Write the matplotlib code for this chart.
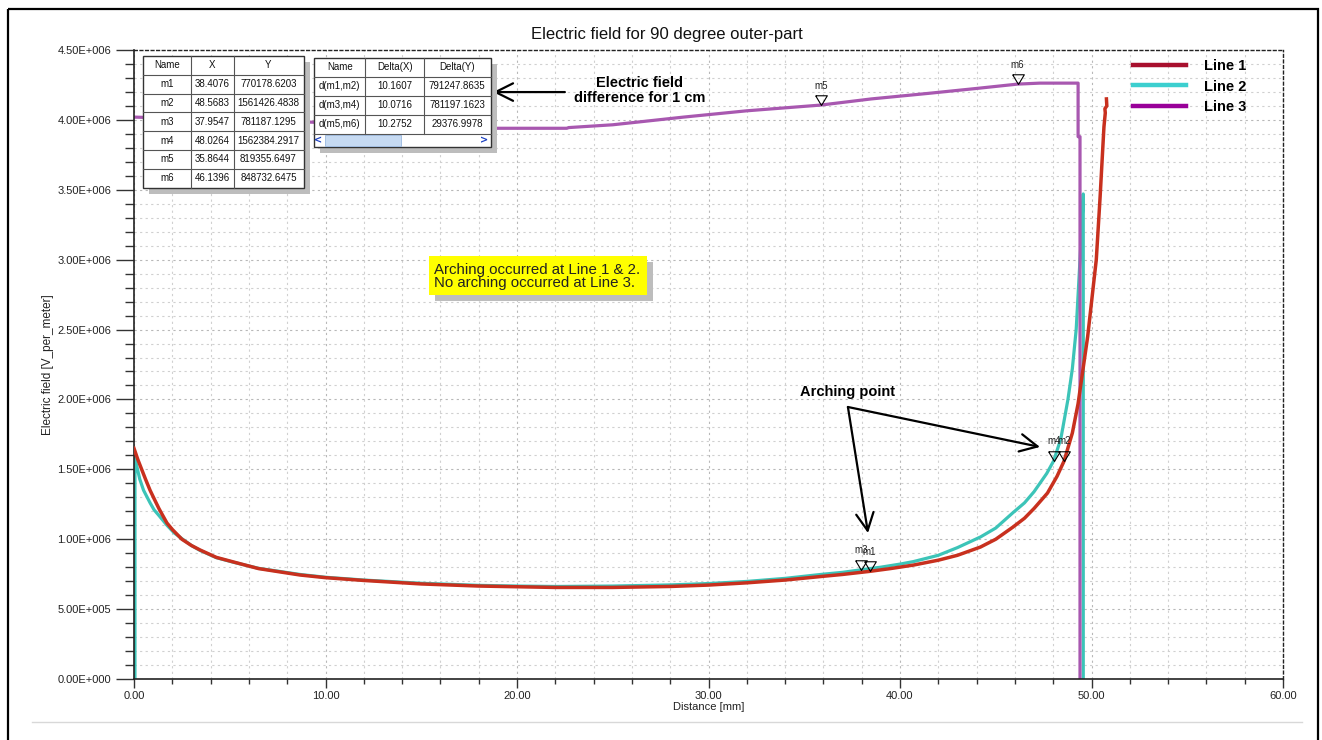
import numpy as np
import matplotlib
matplotlib.use("Agg")
import matplotlib.pyplot as plt
from matplotlib.patches import Rectangle
from matplotlib.lines import Line2D
from matplotlib.ticker import MultipleLocator, FuncFormatter

plt.rcParams['font.family'] = ['Liberation Sans', 'DejaVu Sans']

# --- data (distance in mm, field in 1e6 V/m) ---
dist_1 = [0.0, 0.2, 0.4, 0.6, 0.84, 1.05, 1.3, 1.5, 1.72, 2.0, 2.5, 3.0, 3.45, 4.3, 5.2,
          6.5, 8.67, 10, 12, 15, 18, 20, 22, 25, 28, 30, 32, 34, 36, 37, 38.41, 39.5,
          40.7, 42, 43, 44.2, 45, 45.9, 46.5, 47, 47.7, 48.2, 48.57, 49.0, 49.3, 49.8,
          50.25, 50.45, 50.65, 50.72, 50.7, 50.8, 50.78]
field_1 = [1.65, 1.57, 1.50, 1.43, 1.35, 1.29, 1.22, 1.17, 1.116, 1.07, 1.0, 0.955,
           0.923, 0.87, 0.837, 0.79, 0.744, 0.725, 0.705, 0.68, 0.665, 0.66, 0.655,
           0.655, 0.662, 0.672, 0.688, 0.708, 0.735, 0.748, 0.770, 0.79, 0.815, 0.85,
           0.885, 0.944, 1.0, 1.087, 1.15, 1.22, 1.33, 1.45, 1.56, 1.76, 1.97, 2.45,
           3.0, 3.45, 3.95, 4.05, 4.08, 4.10, 4.15]

dist_2 = [0.05, 0.05, 0.15, 0.3, 0.5, 0.84, 1.05, 1.3, 1.72, 2.1, 2.6, 3.0, 3.45, 4.3,
          5.2, 6.5, 8.67, 10, 12, 15, 18, 20, 22, 25, 28, 30, 32, 34, 36, 37, 37.95, 39,
          40, 40.7, 42, 43, 44.2, 45, 45.9, 46.5, 47.0, 47.66, 48.03, 48.4, 48.77, 49.0,
          49.2, 49.4, 49.5, 49.57, 49.57]
field_2 = [0.0, 1.58, 1.52, 1.43, 1.35, 1.26, 1.21, 1.17, 1.10, 1.045, 0.994, 0.955,
           0.92, 0.868, 0.835, 0.792, 0.748, 0.728, 0.708, 0.685, 0.67, 0.665, 0.662,
           0.665, 0.673, 0.683, 0.698, 0.72, 0.75, 0.763, 0.781, 0.80, 0.822, 0.84,
           0.885, 0.94, 1.016, 1.08, 1.19, 1.26, 1.34, 1.47, 1.562, 1.72, 2.0, 2.22,
           2.5, 3.0, 3.25, 3.47, 0.0]

dist_3 = [0, 5, 9, 14, 18, 22.6, 22.7, 25, 28.7, 32, 35.86, 38.5, 41.5, 44, 46.14, 47.3,
          49.3, 49.3, 49.4, 49.4]
field_3 = [4.02, 4.0, 3.985, 3.96, 3.94, 3.94, 3.945, 3.965, 4.02, 4.065, 4.106, 4.15,
           4.19, 4.225, 4.256, 4.263, 4.263, 3.88, 3.88, 0.0]

marker_names = ['m1', 'm2', 'm3', 'm4', 'm5', 'm6']
marker_x = [38.4076, 48.5683, 37.9547, 48.0264, 35.8644, 46.1396]
marker_y = [0.770, 1.561, 0.781, 1.562, 4.106, 4.256]

table1 = [['Name', 'X', 'Y'],
          ['m1', '38.4076', '770178.6203'],
          ['m2', '48.5683', '1561426.4838'],
          ['m3', '37.9547', '781187.1295'],
          ['m4', '48.0264', '1562384.2917'],
          ['m5', '35.8644', '819355.6497'],
          ['m6', '46.1396', '848732.6475']]
table2 = [['Name', 'Delta(X)', 'Delta(Y)'],
          ['d(m1,m2)', '10.1607', '791247.8635'],
          ['d(m3,m4)', '10.0716', '781197.1623'],
          ['d(m5,m6)', '10.2752', '29376.9978']]

series_labels = ['Line 1', 'Line 2', 'Line 3']
line_colors = ['#c8301e', '#3cc4b8', '#a858b0']
legend_colors = ['#a8102e', '#3ccfcf', '#990099']

W, H = 1322, 740
fig = plt.figure(figsize=(W / 100, H / 100), dpi=100)
ax = fig.add_axes([134 / W, 1 - 679 / H, (1283 - 134) / W, (679 - 50) / H])

scale = 1e6
ax.plot(dist_2, np.array(field_2) * scale, color=line_colors[1], lw=2.3, zorder=2)
ax.plot(dist_3, np.array(field_3) * scale, color=line_colors[2], lw=2.3, zorder=2.5)
ax.plot(dist_1, np.array(field_1) * scale, color=line_colors[0], lw=2.5, zorder=3)

# markers: open triangles with tip on the curve
tri = [(-0.6, 1.0), (0.6, 1.0), (0.0, 0.0), (-0.6, 1.0)]
ax.plot(marker_x, np.array(marker_y) * scale, linestyle='none', marker=tri,
        markersize=14, markerfacecolor='none', markeredgecolor='black',
        markeredgewidth=0.8, zorder=4)
for name, mx, my in zip(marker_names, marker_x, marker_y):
    ax.annotate(name, (mx, my * scale), xytext=(0, 14), textcoords='offset points',
                ha='center', va='center', fontsize=7, color='#222222', zorder=4)

ax.set_xlim(0, 60)
ax.set_ylim(0, 4.5e6)
ax.xaxis.set_major_locator(MultipleLocator(10))
ax.xaxis.set_minor_locator(MultipleLocator(2))
ax.yaxis.set_major_locator(MultipleLocator(0.5e6))
ax.yaxis.set_minor_locator(MultipleLocator(1e5))
ax.xaxis.set_major_formatter(FuncFormatter(lambda v, p: f'{v:.2f}'))


def sci(v, p):
    if v == 0:
        return '0.00E+000'
    e = int(np.floor(np.log10(abs(v))))
    return f'{v / 10**e:.2f}E+{e:03d}'


ax.yaxis.set_major_formatter(FuncFormatter(sci))
ax.tick_params(axis='x', which='major', length=6.5, width=1, colors='#333333',
               labelsize=8, pad=2, labelcolor='#222222')
ax.tick_params(axis='x', which='minor', length=3.6, width=1, colors='#333333')
ax.tick_params(axis='y', which='major', length=13, width=1, colors='#333333',
               labelsize=8, pad=3.5, labelcolor='#222222')
ax.tick_params(axis='y', which='minor', length=6.5, width=1, colors='#333333')

ax.grid(True, which='minor', color='#d0d0d0', lw=0.8, linestyle=(0, (2, 3)))
ax.grid(True, which='major', color='#b8b8b8', lw=0.8, linestyle=(0, (2, 3)))
ax.set_axisbelow(True)
for s in ['left', 'bottom']:
    ax.spines[s].set_color('#222222')
    ax.spines[s].set_linewidth(1.2)
for s in ['top', 'right']:
    ax.spines[s].set_color('#222222')
    ax.spines[s].set_linewidth(1.0)
    ax.spines[s].set_linestyle((0, (2, 2)))

ax.set_xlabel('Distance [mm]', fontsize=8, labelpad=1, color='#222222')
ax.set_ylabel('Electric field [V_per_meter]', fontsize=8.5, labelpad=2, color='#222222')

# annotations
arrow_style = dict(arrowstyle='->,head_length=0.7,head_width=0.35', lw=1.6,
                   color='black', mutation_scale=18, shrinkA=0, shrinkB=0)
ax.annotate('', xy=(38.33, 1.044e6), xytext=(37.28, 1.946e6), arrowprops=arrow_style)
ax.annotate('', xy=(47.31, 1.66e6), xytext=(37.28, 1.946e6), arrowprops=arrow_style)
ax.text(37.28, 2.05e6, 'Arching point', ha='center', va='center', fontsize=10.5,
        fontweight='bold')
ax.annotate('', xy=(18.75, 4.199e6), xytext=(22.5, 4.199e6), arrowprops=arrow_style)
ax.text(26.4, 4.21e6, 'Electric field\ndifference for 1 cm', ha='center', va='center',
        fontsize=10.5, fontweight='bold', linespacing=1.15)

handles = [Line2D([0], [0], color=c, lw=3.2) for c in legend_colors]
ax.legend(handles, series_labels, loc='upper left', bbox_to_anchor=(1133 / W, 1 - 59 / H),
          bbox_transform=fig.transFigure, frameon=False, borderpad=0, borderaxespad=0,
          handlelength=3.6, handletextpad=1.25, labelspacing=0.45,
          prop={'weight': 'bold', 'size': 10.5})

fig.text(667 / W, 1 - 35 / H, 'Electric field for 90 degree outer-part', ha='center',
         va='center', fontsize=12, color='#111111')

# --- overlay in pixel coordinates: frame, tables, note box ---
ov = fig.add_axes([0, 0, 1, 1], zorder=5)
ov.set_xlim(0, W)
ov.set_ylim(H, 0)
ov.axis('off')

ov.add_patch(Rectangle((8, 9), 1310, 740, fill=False, ec='black', lw=1.6))
ov.plot([32, 1302], [722, 722], color='#d8d8d8', lw=1)


def draw_table(left, top, col_w, row_h, rows, extra_h=0):
    width = sum(col_w)
    height = row_h * len(rows) + extra_h
    ov.add_patch(Rectangle((left + 6, top + 6), width, height, color='#bdbdbd', lw=0))
    ov.add_patch(Rectangle((left, top), width, height, fc='white', ec='#333333', lw=1))
    for i, row in enumerate(rows):
        y = top + row_h * i
        if i > 0:
            ov.plot([left, left + width], [y, y], color='#555555', lw=0.8)
        x = left
        for j, cell in enumerate(row):
            ov.text(x + col_w[j] / 2, y + row_h / 2, cell, ha='center', va='center',
                    fontsize=7, color='#111111')
            x += col_w[j]
    x = left
    for w in col_w[:-1]:
        x += w
        ov.plot([x, x], [top, top + row_h * len(rows)], color='#555555', lw=0.8)
    return width, height


draw_table(143, 56, [47.5, 43, 70], 18.8, table1)
w2, h2 = draw_table(314, 57.7, [51.4, 58.6, 66.5], 19.0, table2, extra_h=13.3)
sb_top = 57.7 + 19.0 * 4
ov.plot([314, 314 + w2], [sb_top, sb_top], color='#555555', lw=0.8)
ov.add_patch(Rectangle((325, sb_top + 1.5), 76, 10.5, fc='#c6daf2', ec='#9ab8e0', lw=0.6))
ov.text(318.5, sb_top + 6.8, '<', ha='center', va='center', fontsize=7,
        fontweight='bold', color='#1a3fc0', family='DejaVu Sans')
ov.text(484.5, sb_top + 6.8, '>', ha='center', va='center', fontsize=7,
        fontweight='bold', color='#1a3fc0', family='DejaVu Sans')

# yellow note box
ov.add_patch(Rectangle((435, 262), 218, 39, color='#bdbdbd', lw=0))
ov.add_patch(Rectangle((429, 256), 218, 39, color='#ffff00', lw=0))
ov.text(434, 274, 'Arching occurred at Line 1 & 2.', ha='left', va='baseline',
        fontsize=10.8, color='#222222')
ov.text(434, 287, 'No arching occurred at Line 3.', ha='left', va='baseline',
        fontsize=10.8, color='#222222')

fig.savefig('out.png', dpi=100, facecolor='white')
